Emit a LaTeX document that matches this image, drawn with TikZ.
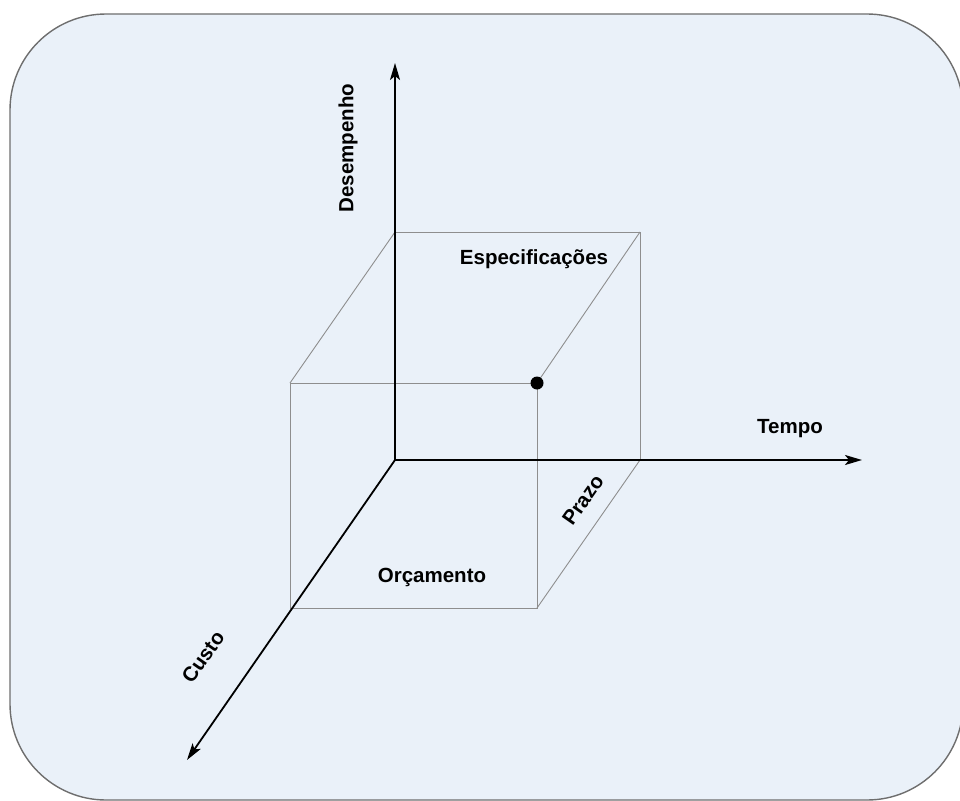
\documentclass[tikz,border=0pt]{standalone}
\usepackage{fontspec}
\setmainfont{Liberation Sans}
\usetikzlibrary{arrows.meta}
\definecolor{panel}{HTML}{EAF1F9}
\definecolor{panelrule}{HTML}{6E6E6E}
\definecolor{edgegray}{HTML}{8E8E8E}
\begin{document}
\begin{tikzpicture}[x=1pt,y=-1pt,
  axis/.style={line width=1.8pt,-{Stealth[length=17pt,width=10pt,inset=4pt]}},
  edge/.style={draw=edgegray,line width=0.9pt},
  lbl/.style={font=\fontsize{20.5}{24}\selectfont\bfseries,inner sep=0pt}]
  \useasboundingbox (0,0) rectangle (960,800);
  \clip (0,0) rectangle (960,800);
  % background panel
  \draw[panelrule,fill=panel,line width=1.4pt,rounded corners=96pt]
    (10,14) rectangle (963,800);
  % corners of the box
  \coordinate (O)  at (395,460);
  \coordinate (B1) at (395,232);
  \coordinate (B2) at (640,232);
  \coordinate (B3) at (640,460);
  \coordinate (F1) at (290,383);
  \coordinate (F2) at (537,383);
  \coordinate (F3) at (537,608);
  \coordinate (F4) at (290,608);
  % axis ends
  \coordinate (Up)    at (395,63);
  \coordinate (Right) at (862,460);
  \coordinate (Down)  at (187,760);
  % box edges
  \draw[edge] (B1) -- (B2) -- (B3);
  \draw[edge] (F1) -- (F2) -- (F3) -- (F4) -- cycle;
  \draw[edge] (F1) -- (B1);
  \draw[edge] (F2) -- (B2);
  \draw[edge] (F3) -- (B3);
  % axes
  \draw[axis] (O) -- (Up);
  \draw[axis] (O) -- (Right);
  \draw[axis] (O) -- (Down);
  % point
  \fill (F2) circle (6.5pt);
  % labels
  \node[lbl,rotate=90] (desemp) at (348,148) {Desempenho};
  \node[lbl] (espec) at (534,259) {Especificações};
  \node[lbl] (tempo) at (790,429) {Tempo};
  \node[lbl,rotate=55] (prazo) at (583,500) {Prazo};
  \node[lbl] (orc) at (432,577) {Orçamento};
  \node[lbl,rotate=55] (custo) at (203,657) {Custo};
\end{tikzpicture}
\end{document}
